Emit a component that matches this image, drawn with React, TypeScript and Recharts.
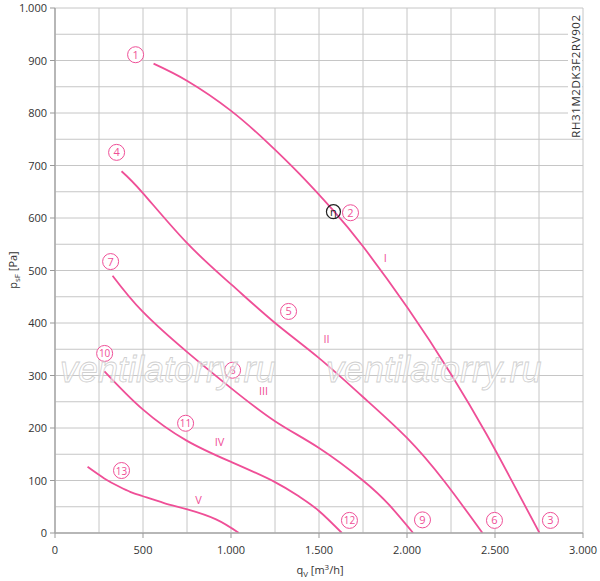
import React from "react";
import { ComposedChart, Line, Scatter, XAxis, YAxis, CartesianGrid } from "recharts";

// characteristic curves, q in m3/h, p in Pa
const curveI = [
  { q: 560, p: 894 }, { q: 752, p: 861 }, { q: 997, p: 805 }, { q: 1200, p: 746 },
  { q: 1389, p: 684 }, { q: 1582, p: 614 }, { q: 1747, p: 547 }, { q: 2003, p: 429 },
  { q: 2253, p: 301 }, { q: 2452, p: 188 }, { q: 2591, p: 102 }, { q: 2753, p: 0 },
];
const curveII = [
  { q: 378, p: 689 }, { q: 498, p: 648 }, { q: 748, p: 553 }, { q: 1003, p: 473 },
  { q: 1247, p: 401 }, { q: 1497, p: 334 }, { q: 1747, p: 260 }, { q: 1997, p: 182 },
  { q: 2213, p: 98 }, { q: 2429, p: 0 },
];
const curveIII = [
  { q: 327, p: 490 }, { q: 497, p: 422 }, { q: 753, p: 344 }, { q: 1000, p: 276 },
  { q: 1250, p: 213 }, { q: 1500, p: 162 }, { q: 1750, p: 100 }, { q: 1900, p: 53 },
  { q: 2035, p: 0 },
];
const curveIV = [
  { q: 281, p: 308 }, { q: 497, p: 236 }, { q: 748, p: 176 }, { q: 1003, p: 135 },
  { q: 1250, p: 97 }, { q: 1389, p: 69 }, { q: 1500, p: 42 }, { q: 1630, p: 0 },
];
const curveV = [
  { q: 185, p: 126 }, { q: 280, p: 104 }, { q: 366, p: 88 }, { q: 430, p: 78 },
  { q: 500, p: 70 }, { q: 620, p: 57 }, { q: 752, p: 45 }, { q: 915, p: 26 },
  { q: 1045, p: 0 },
];

// circled point labels
const pointNames = ["1", "2", "3", "4", "5", "6", "7", "8", "9", "10", "11", "12", "13"];
const pointQ = [458, 1679, 2815, 350, 1327, 2497, 316, 1009, 2088, 282, 742, 1673, 378];
const pointP = [911, 610, 24, 725, 422, 24, 517, 310, 25, 342, 209, 24, 119];

// efficiency marker
const etaQ = 1582;
const etaP = 612;

// curve names
const curveNames = ["I", "II", "III", "IV", "V"];
const curveNameQ = [1877, 1543, 1185, 935, 815];
const curveNameP = [523, 369, 270, 173, 63];

const xTicks = [0, 250, 500, 750, 1000, 1250, 1500, 1750, 2000, 2250, 2500, 2750, 3000];
const yTicks = [0, 50, 100, 150, 200, 250, 300, 350, 400, 450, 500, 550, 600, 650, 700, 750, 800, 850, 900, 950, 1000];

const PINK = "#ef4f97";
const FONT = "'Open Sans', 'DejaVu Sans', sans-serif";

const fmt = (v: number) => (v >= 1000 ? `${Math.floor(v / 1000)}.${String(v % 1000).padStart(3, "0")}` : String(v));

const pointData = pointNames.map((name, i) => ({ q: pointQ[i], p: pointP[i], name }));
const nameData = curveNames.map((name, i) => ({ q: curveNameQ[i], p: curveNameP[i], name }));

const XTick = (props: any) => {
  const { x, y, payload } = props;
  if (payload.value % 500 !== 0) return <g />;
  return (
    <g>
      <line x1={x} x2={x} y1={y} y2={y + 5} stroke="#999" strokeWidth={1} />
      <text x={x} y={y + 21} textAnchor="middle" fontSize={11} fill="#333" fontFamily={FONT}>
        {fmt(payload.value)}
      </text>
    </g>
  );
};

const YTick = (props: any) => {
  const { x, y, payload } = props;
  if (payload.value % 100 !== 0) return <g />;
  return (
    <g>
      <line x1={x - 5} x2={x} y1={y} y2={y} stroke="#999" strokeWidth={1} />
      <text x={x - 8} y={y + 4} textAnchor="end" fontSize={11} fill="#333" fontFamily={FONT}>
        {fmt(payload.value)}
      </text>
    </g>
  );
};

const CircleMark = (props: any) => {
  const { cx, cy, payload } = props;
  return (
    <g>
      <circle cx={cx} cy={cy} r={8} fill="#fff" stroke={PINK} strokeWidth={1} />
      <text x={cx} y={cy + 4} textAnchor="middle" fontSize={payload.name.length > 1 ? 10 : 11} fill={PINK} fontFamily={FONT}>
        {payload.name}
      </text>
    </g>
  );
};

const EtaMark = (props: any) => {
  const { cx, cy } = props;
  return (
    <g>
      <circle cx={cx} cy={cy} r={7} fill="none" stroke="#222" strokeWidth={1.2} />
      <text x={cx} y={cy + 4} textAnchor="middle" fontSize={11} fill="#222" fontFamily={FONT}>
        η
      </text>
    </g>
  );
};

const NameMark = (props: any) => {
  const { cx, cy, payload } = props;
  return (
    <text x={cx} y={cy + 4} textAnchor="middle" fontSize={11} fill={PINK} fontFamily={FONT}>
      {payload.name}
    </text>
  );
};

const curves = [curveI, curveII, curveIII, curveIV, curveV];

export default function App() {
  return (
    <div style={{ position: "absolute", left: 0, top: 0, width: 600, height: 581, background: "#fff" }}>
      <ComposedChart width={600} height={581} margin={{ top: 8, right: 17, left: 0, bottom: 0 }}>
        <CartesianGrid stroke="#c6c6c6" strokeWidth={1} />
        <XAxis
          type="number"
          dataKey="q"
          domain={[0, 3000]}
          ticks={xTicks}
          interval={0}
          height={48}
          tickSize={0}
          tickMargin={0}
          tick={<XTick />}
          tickLine={false}
          axisLine={{ stroke: "#a8a8a8", strokeWidth: 1.5 }}
          allowDataOverflow
        />
        <YAxis
          type="number"
          dataKey="p"
          domain={[0, 1000]}
          ticks={yTicks}
          interval={0}
          width={55}
          tickSize={0}
          tickMargin={0}
          tick={<YTick />}
          tickLine={false}
          axisLine={{ stroke: "#a8a8a8", strokeWidth: 1.5 }}
          allowDataOverflow
        />
        {curves.map((c, i) => (
          <Line
            key={i}
            data={c}
            dataKey="p"
            type="natural"
            stroke={PINK}
            strokeWidth={1.8}
            dot={false}
            activeDot={false}
            isAnimationActive={false}
          />
        ))}
        <Scatter data={pointData} dataKey="p" shape={<CircleMark />} isAnimationActive={false} />
        <Scatter data={[{ q: etaQ, p: etaP }]} dataKey="p" shape={<EtaMark />} isAnimationActive={false} />
        <Scatter data={nameData} dataKey="p" shape={<NameMark />} isAnimationActive={false} />
      </ComposedChart>
      <svg width={600} height={581} style={{ position: "absolute", left: 0, top: 0, pointerEvents: "none" }}>
        {[60, 326].map((x) => (
          <text
            key={x}
            x={x}
            y={382}
            fontSize={36}
            fontStyle="italic"
            fontFamily="'Liberation Sans', Arial, sans-serif"
            fill="rgba(255,255,255,0.55)"
            stroke="#cfcfcf"
            strokeWidth={0.8}
          >
            ventilatorry.ru
          </text>
        ))}
        <rect x={568} y={14} width={14} height={124} fill="#fff" />
        <text
          transform="rotate(-90 576 76)"
          x={576}
          y={80}
          textAnchor="middle"
          fontSize={11.5}
          letterSpacing={0.6}
          fill="#333"
          fontFamily={FONT}
        >
          RH31M2DK3F2RV902
        </text>
        <text transform="rotate(-90 13 270)" x={13} y={274} textAnchor="middle" fontSize={11} fill="#333" fontFamily={FONT}>
          p<tspan fontSize={8} dy={3}>sF</tspan>
          <tspan dy={-3}> [Pa]</tspan>
        </text>
        <text x={320} y={574} textAnchor="middle" fontSize={11} fill="#333" fontFamily={FONT}>
          q<tspan fontSize={8} dy={3}>V</tspan>
          <tspan dy={-3}> [m</tspan>
          <tspan fontSize={8} dy={-4}>3</tspan>
          <tspan dy={4}>/h]</tspan>
        </text>
      </svg>
    </div>
  );
}
